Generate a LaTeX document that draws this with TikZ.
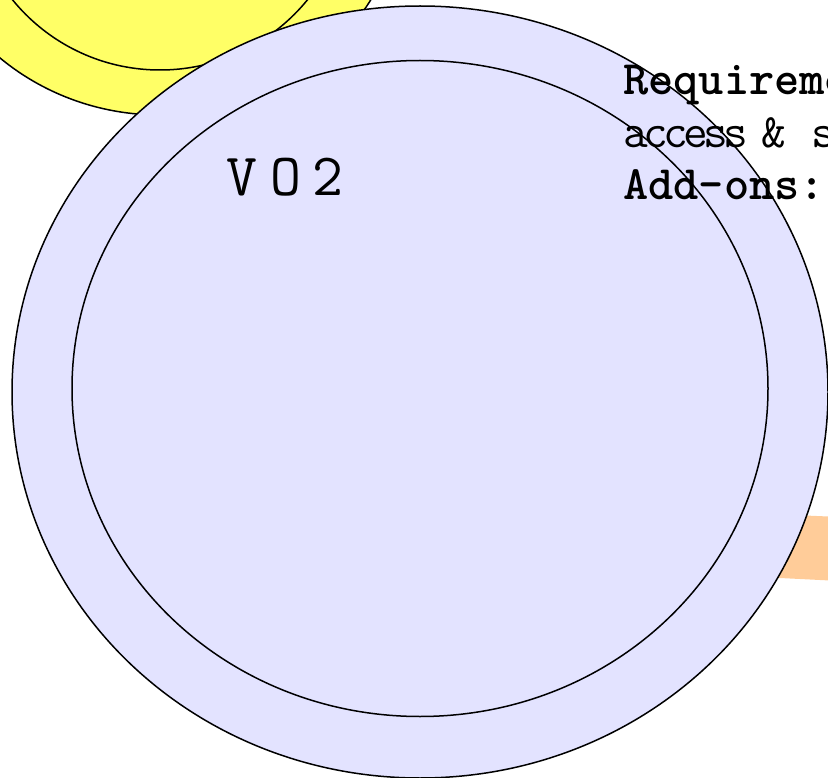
\documentclass[tikz,border=0pt]{standalone}
\usepackage{fontspec}
\definecolor{yel}{RGB}{255,255,102}
\definecolor{lav}{RGB}{227,227,255}
\definecolor{peach}{RGB}{255,204,153}
\begin{document}
\begin{tikzpicture}[x=1pt,y=-1pt,
  outline/.style={draw=black,line width=1.5pt},
  label/.style={inner sep=0pt,anchor=base west,font=\ttfamily}]
\useasboundingbox (0,0) rectangle (828,778);
% yellow circle (behind)
\fill[yel] (160,-120) ellipse [x radius=245pt, y radius=235pt];
\draw[outline] (160,-120) ellipse [x radius=245pt, y radius=235pt];
\draw[outline] (160,-120) ellipse [x radius=190pt, y radius=190pt];
% peach band
\fill[peach] (700,511) -- (840,517) -- (840,581) -- (700,574) -- cycle;
% lavender ring
\fill[lav] (420,392) ellipse [x radius=408pt, y radius=386pt];
\draw[outline] (420,392) ellipse [x radius=408pt, y radius=386pt];
\draw[outline] (420,388.5) ellipse [x radius=348pt, y radius=328pt];
% texts
\node[label,font=\ttfamily\fontsize{60}{64}\selectfont] (vo) at (226,196)
  {V\kern13pt O\kern11pt 2};
\node[label,font=\ttfamily\bfseries\fontsize{48}{52}\selectfont] (req) at (623,95) {Requireme};
\node[label,font=\ttfamily\fontsize{48}{52}\selectfont] (acc) at (623,148)
  {a\kern-4.7pt c\kern-4.7pt c\kern-4.7pt e\kern-4.7pt s\kern-4.7pt s\kern-11pt\ \& s};
\node[label,font=\ttfamily\bfseries\fontsize{48}{52}\selectfont] (add) at (623,200) {Add-ons:};
\end{tikzpicture}
\end{document}
